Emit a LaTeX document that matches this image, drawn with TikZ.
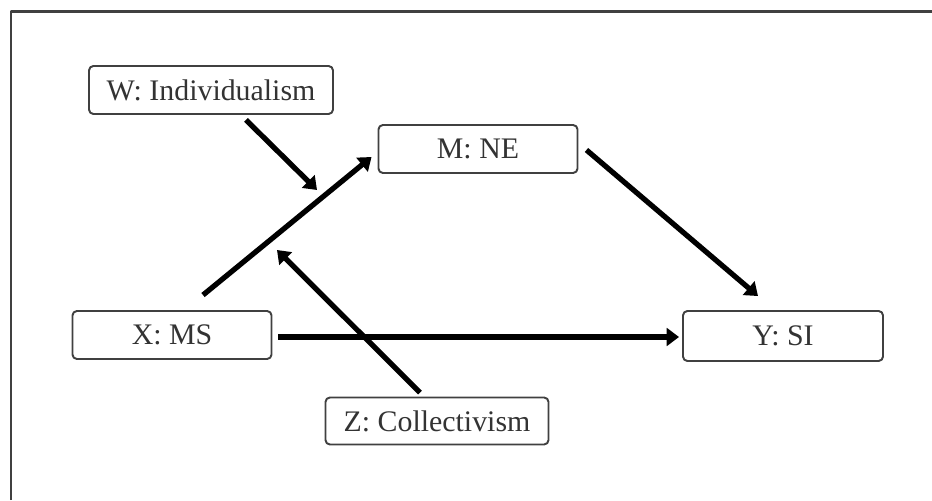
\documentclass[tikz,border=0pt]{standalone}
\usepackage{fontspec}
\setmainfont{Liberation Serif}
\usetikzlibrary{arrows.meta}
\definecolor{txtgray}{HTML}{333333}
\definecolor{boxgray}{HTML}{404040}
\begin{document}
\begin{tikzpicture}[x=0.02cm, y=0.02cm, line join=round,
		box/.style={draw=boxgray, line width=1.1pt, rounded corners=2.5pt, fill=white, text=txtgray,
			font=\fontsize{17}{20}\selectfont, minimum height=48*0.02cm, inner sep=0pt},
		arr/.style={line width=3pt, -{Triangle[length=7pt,width=10pt]}}]
		\useasboundingbox (0,0) rectangle (932,500);
		% khung
		\draw[boxgray, line width=1.7pt] (11,0) |- (932,488);
		% cac bien
		\node[box, minimum width=244*0.02cm] (W) at (211,410) {W: Individualism};
		\node[box, minimum width=199*0.02cm] (M) at (478,351) {M: NE};
		\node[box, minimum width=199*0.02cm] (X) at (172,165) {X: MS};
		\node[box, minimum width=200*0.02cm, minimum height=50*0.02cm] (Y) at (783,164) {Y: SI};
		\node[box, minimum width=223*0.02cm, minimum height=47*0.02cm] (Z) at (437,79) {Z: Collectivism};
		\coordinate (wt) at (317,310);
		\coordinate (zt) at (277,250);
		% cac mui ten
		\draw[arr] ([shift={(31,15)}]X.north) -- ([shift={(-6,-8)}]M.west);
		\draw[arr] ([shift={(35,-5)}]W.south) -- (wt);
		\draw[arr] ([shift={(-17,4)}]Z.north) -- (zt);
		\draw[arr] ([shift={(8,-1)}]M.east) -- ([shift={(-25,14)}]Y.north);
		\draw[arr] ([shift={(6,-2)}]X.east) -- ([shift={(-3,-1)}]Y.west);
	\end{tikzpicture}
\end{document}
